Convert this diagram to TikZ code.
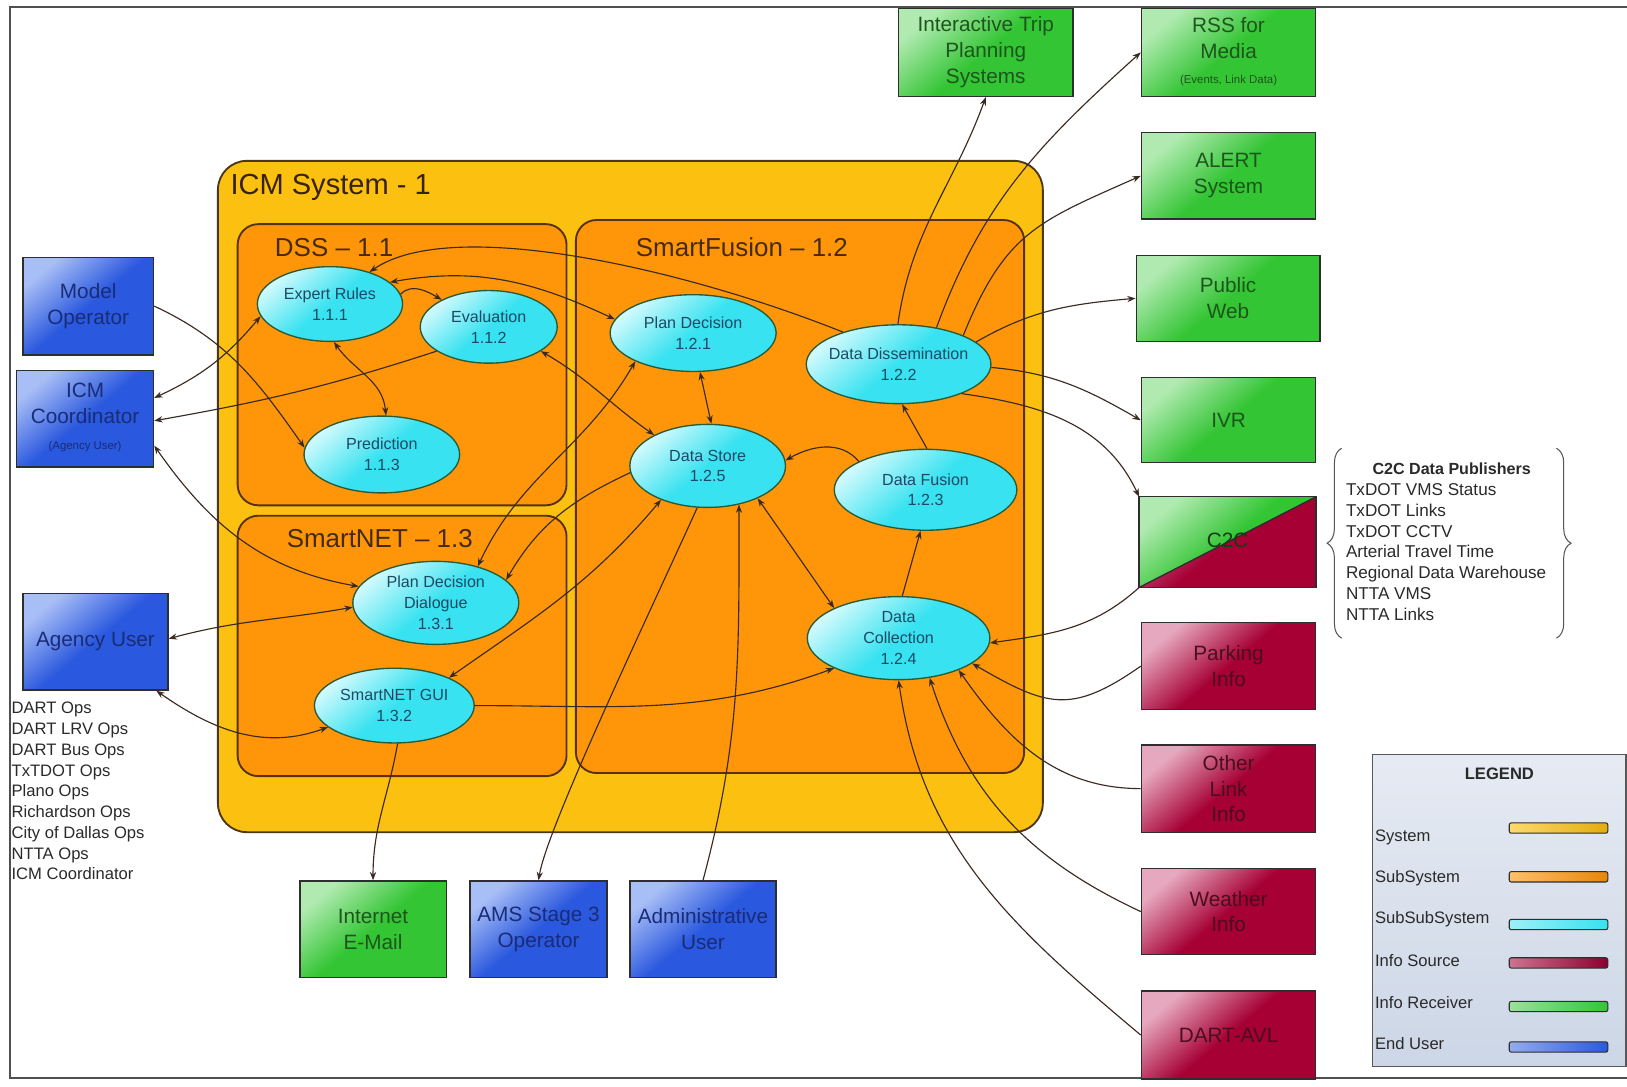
\documentclass[tikz,border=0pt]{standalone}
\usepackage{fontspec}
\setmainfont{Liberation Sans}
\usetikzlibrary{shapes.geometric,arrows.meta,decorations.pathreplacing}

\definecolor{sysY}{HTML}{FCC010}
\definecolor{sysB}{HTML}{4A3818}
\definecolor{subO}{HTML}{FF960A}
\definecolor{subB}{HTML}{553214}
\definecolor{cyM}{HTML}{38E2F0}
\definecolor{cyL}{HTML}{D0FAFD}
\definecolor{cyB}{HTML}{2A5A36}
\definecolor{cyT}{HTML}{1C4A66}
\definecolor{grM}{HTML}{34C534}
\definecolor{grL}{HTML}{B0EAB0}
\definecolor{grT}{HTML}{1C561C}
\definecolor{blM}{HTML}{2A58DE}
\definecolor{blL}{HTML}{A8BEF6}
\definecolor{blT}{HTML}{182C78}
\definecolor{mrM}{HTML}{A60035}
\definecolor{mrL}{HTML}{E6A8BE}
\definecolor{mrT}{HTML}{4A0E1E}
\definecolor{bxB}{HTML}{2E2E2E}
\definecolor{arrC}{HTML}{3A2A22}
\definecolor{ttlC}{HTML}{452A0C}
\definecolor{lsT}{HTML}{2A2A2A}
\definecolor{lgF}{HTML}{CCD6E6}
\definecolor{lgL}{HTML}{E6EBF3}
\definecolor{frameC}{HTML}{505050}

\begin{document}
\begin{tikzpicture}[x=1pt,y=-1pt,
  sysbox/.style={rectangle, draw=sysB, line width=1.8pt, fill=sysY, rounded corners=28pt, inner sep=0},
  subbox/.style={rectangle, draw=subB, line width=1.8pt, fill=subO, rounded corners=20pt, inner sep=0},
  ttl/.style={inner sep=0, text=ttlC, font=\fontsize{25}{30}\selectfont},
  proc/.style={ellipse, draw=cyB, line width=1.3pt, top color=cyL, bottom color=cyM, middle color=cyM, shading angle=40, inner sep=-12pt, align=center, text=cyT, font=\fontsize{15.5}{20}\selectfont},
  rbox/.style={rectangle, draw=bxB, line width=1.3pt, inner sep=2pt, align=center, font=\fontsize{20}{25}\selectfont},
  recv/.style={rbox, top color=grL, bottom color=grM, middle color=grM, shading angle=40, text=grT},
  euser/.style={rbox, top color=blL, bottom color=blM, middle color=blM, shading angle=40, text=blT},
  isrc/.style={rbox, top color=mrL, bottom color=mrM, middle color=mrM, shading angle=40, text=mrT},
  boxtext/.style={inner sep=0, align=center, font=\fontsize{20}{25}\selectfont},
  smalltext/.style={inner sep=0, font=\fontsize{11}{13}\selectfont},
  arw/.style={draw=arrC, line width=1.1pt, -{Stealth[length=8pt,width=6pt]}},
  darw/.style={draw=arrC, line width=1.1pt, {Stealth[length=8pt,width=6pt]}-{Stealth[length=8pt,width=6pt]}},
  swatch/.style={rectangle, draw=bxB, line width=1pt, rounded corners=2pt, minimum width=95pt, minimum height=10pt, inner sep=0},
  lgl/.style={anchor=west, inner sep=0, font=\fontsize{16}{18}\selectfont, text=lsT},
  bracestyle/.style={draw=lsT!80, line width=1pt, decorate, decoration={brace, amplitude=14pt, aspect=0.5}}
]
\useasboundingbox (0,0) rectangle (1568,1047);
\fill[white] (0,0) rectangle (1568,1047);
\draw[frameC, line width=2pt] (1568,7) -- (10,7) -- (10,1039) -- (1568,1039);

% containers
\node[sysbox, minimum width=795pt, minimum height=647pt] (sys) at (607.5,478.5) {};
\node[subbox, minimum width=317pt, minimum height=271pt] (dss) at (387.5,351.5) {};
\node[subbox, minimum width=432pt, minimum height=533pt] (sf) at (771,478.5) {};
\node[subbox, minimum width=317pt, minimum height=251pt] (sn) at (387.5,622.5) {};

\node[ttl, font=\fontsize{28}{32}\selectfont, text=ttlC!80!black, anchor=west] (systitle) at (222,181) {ICM System - 1};
\node[ttl] (dsstitle) at (322,239) {DSS \textendash{} 1.1};
\node[ttl] (sftitle) at (715,238) {SmartFusion \textendash{} 1.2};
\node[ttl] (sntitle) at (366,519) {SmartNET \textendash{} 1.3};

% processes
\node[proc, minimum width=140pt, minimum height=72pt] (er) at (318,293) {Expert Rules\\1.1.1};
\node[proc, minimum width=132pt, minimum height=70pt] (ev) at (471,315) {Evaluation\\1.1.2};
\node[proc, minimum width=150pt, minimum height=74pt] (pr) at (368,438) {Prediction\\1.1.3};
\node[proc, minimum width=160pt, minimum height=74pt] (pd) at (668,321) {Plan Decision\\1.2.1};
\node[proc, minimum width=178pt, minimum height=76pt] (dd) at (866,351) {Data Dissemination\\1.2.2};
\node[proc, minimum width=150pt, minimum height=80pt] (ds) at (682,449) {Data Store\\1.2.5};
\node[proc, minimum width=176pt, minimum height=78pt] (df) at (892,472) {Data Fusion\\1.2.3};
\node[proc, minimum width=176pt, minimum height=80pt] (dc) at (866,615) {Data\\Collection\\1.2.4};
\node[proc, minimum width=160pt, minimum height=80pt] (pdd) at (420,581) {Plan Decision\\Dialogue\\1.3.1};
\node[proc, minimum width=154pt, minimum height=72pt] (gui) at (380,680) {SmartNET GUI\\1.3.2};

% end users
\node[euser, minimum width=126pt, minimum height=94pt] (mo) at (85,295) {Model\\Operator};
\node[euser, minimum width=132pt, minimum height=93pt] (icmc) at (82,403.5) {};
\node[boxtext, text=blT] (icmct) at (82,389) {ICM\\Coordinator};
\node[smalltext, text=blT] (icmcs) at (82,430) {(Agency User)};
\node[euser, minimum width=140pt, minimum height=93pt] (au) at (92,618.5) {Agency User};
\node[anchor=north west, inner sep=0, align=left, font=\fontsize{16}{20}\selectfont, text=lsT] (aulist) at (11,676.5)
  {DART Ops\\DART LRV Ops\\DART Bus Ops\\TxTDOT Ops\\Plano Ops\\Richardson Ops\\City of Dallas Ops\\NTTA Ops\\ICM Coordinator};
\node[recv, minimum width=141pt, minimum height=93pt] (mail) at (359.5,895.5) {Internet\\E-Mail};
\node[euser, minimum width=132pt, minimum height=93pt] (ams) at (519,895.5) {AMS Stage 3\\Operator};
\node[euser, minimum width=141pt, minimum height=93pt] (adm) at (677.5,895.5) {Administrative\\User};

% receivers
\node[recv, minimum width=168pt, minimum height=85pt] (itps) at (950,50.5) {Interactive Trip\\Planning\\Systems};
\node[recv, minimum width=168pt, minimum height=85pt] (rss) at (1184,50.5) {};
\node[boxtext, text=grT] (rsst) at (1184,37) {RSS for\\Media};
\node[smalltext, text=grT] (rsss) at (1184,78) {(Events, Link Data)};
\node[recv, minimum width=168pt, minimum height=83pt] (alert) at (1184,169.5) {ALERT\\System};
\node[recv, minimum width=177pt, minimum height=83pt] (web) at (1183.5,287.5) {Public\\Web};
\node[recv, minimum width=168pt, minimum height=82pt] (ivr) at (1184,405) {IVR};

% C2C split box
\node[rectangle, inner sep=0, minimum width=170pt, minimum height=87pt] (c2c) at (1183,522.5) {};
\fill[top color=grL, bottom color=grM, middle color=grM, shading angle=40] (c2c.south west) -- (c2c.north west) -- (c2c.north east) -- cycle;
\fill[top color=mrL!70!mrM, bottom color=mrM, middle color=mrM, shading angle=40] (c2c.south west) -- (c2c.north east) -- (c2c.south east) -- cycle;
\draw[bxB, line width=1.3pt] (c2c.south west) rectangle (c2c.north east);
\draw[bxB, line width=1.3pt] (c2c.south west) -- (c2c.north east);
\node[boxtext, text=grT!70!black] (c2ct) at (1183,521) {C2C};

% sources
\node[isrc, minimum width=168pt, minimum height=84pt] (park) at (1184,642) {Parking\\Info};
\node[isrc, minimum width=168pt, minimum height=84pt] (other) at (1184,760) {Other\\Link\\Info};
\node[isrc, minimum width=168pt, minimum height=83pt] (weather) at (1184,878.5) {Weather\\Info};
\node[isrc, minimum width=168pt, minimum height=85pt] (avl) at (1184,997.5) {DART-AVL};

% C2C publishers
\node[inner sep=0, font=\bfseries\fontsize{15.5}{18}\selectfont, text=lsT] (c2chd) at (1399,452) {C2C Data Publishers};
\node[anchor=north west, inner sep=0, align=left, font=\fontsize{16.5}{20}\selectfont, text=lsT] (c2cls) at (1297,466)
  {TxDOT VMS Status\\TxDOT Links\\TxDOT CCTV\\Arterial Travel Time\\Regional Data Warehouse\\NTTA VMS\\NTTA Links};
\coordinate (brLb) at (1293,615);
\coordinate (brLt) at (1293,432);
\coordinate (brRt) at (1500,432);
\coordinate (brRb) at (1500,615);
\draw[bracestyle] (brLb) -- (brLt);
\draw[bracestyle] (brRt) -- (brRb);

% legend
\node[rectangle, draw=bxB!80, line width=1.2pt, top color=lgL, bottom color=lgF, minimum width=244pt, minimum height=301pt, inner sep=0] (lg) at (1445,877.5) {};
\node[inner sep=0, font=\bfseries\fontsize{16}{18}\selectfont, text=lsT] (lgt) at (1445,746) {LEGEND};
\node[lgl] (lg1) at (1325,807) {System};
\node[lgl] (lg2) at (1325,846) {SubSystem};
\node[lgl] (lg3) at (1325,886) {SubSubSystem};
\node[lgl] (lg4) at (1325,926) {Info Source};
\node[lgl] (lg5) at (1325,966) {Info Receiver};
\node[lgl] (lg6) at (1325,1006) {End User};
\node[swatch, left color=sysY!60!white, right color=sysY!90!black] (sw1) at (1502,798) {};
\node[swatch, left color=subO!60!white, right color=subO!90!black] (sw2) at (1502,845) {};
\node[swatch, left color=cyM!50!white, right color=cyM] (sw3) at (1502,891) {};
\node[swatch, left color=mrM!55!white, right color=mrM!85!black] (sw4) at (1502,928) {};
\node[swatch, left color=grM!50!white, right color=grM] (sw5) at (1502,970) {};
\node[swatch, left color=blM!50!white, right color=blM] (sw6) at (1502,1009) {};

% connectors
\draw[arw] (mo.east) to[out=-25,in=125] (pr.175);
\draw[darw] (er.190) to[out=-130,in=25] ([yshift=20pt]icmc.east);
\draw[arw] (ev.205) to[out=198,in=10] ([yshift=-2pt]icmc.east);
\draw[darw] (er.-84) to[out=-55,in=95] (pr.84);
\draw[arw] (er.8) to[out=45,in=150] (ev.150);
\draw[arw] (dd.150) .. controls +(-150,-60) and +(80,-55) .. (er.39);
\draw[darw] (er.20) to[out=10,in=155] (pd.170);
\draw[darw] (ev.-25) to[out=-30,in=145] (ds.150);
\draw[darw] (pd.-80) -- (ds.85);
\draw[darw] (pd.206) to[out=-120,in=65] (pdd.41);
\draw[arw] (ds.185) to[out=205,in=60] (pdd.18);
\draw[darw] ([yshift=-26pt]icmc.east) to[out=-55,in=170] (pdd.168);
\draw[darw] ([yshift=3pt]au.east) to[out=15,in=190] (pdd.183);
\draw[darw] ([xshift=-12pt]au.south east) to[out=-35,in=200] (gui.198);
\draw[darw] (ds.216) to[out=230,in=35] (gui.27);
\draw[arw] (gui.0) to[out=0,in=200] (dc.205);
\draw[arw] (gui.-85) to[out=-100,in=90] (mail.north);
\draw[arw] (ds.-104) .. controls +(-50,110) and +(8,-50) .. (ams.north);
\draw[arw] (adm.north) to[out=75,in=-90] (ds.-51);
\draw[darw] (ds.-33) -- (dc.155);
\draw[arw] (df.157) to[out=130,in=30] (ds.4);
\draw[arw] (dc.85) -- (df.-97);
\draw[arw] (df.88) -- (dd.-85);
\draw[arw] (dd.91) to[out=82,in=-110] (itps.south);
\draw[arw] (dd.44) to[out=70,in=-138] (rss.west);
\draw[arw] (dd.24) to[out=68,in=-156,looseness=1.2] (alert.west);
\draw[arw] (dd.16) to[out=30,in=185] (web.west);
\draw[arw] (dd.-2) to[out=-5,in=150] (ivr.west);
\draw[arw] (dd.-25) to[out=-8,in=115] (c2c.north west);
\draw[arw] (c2c.south west) to[out=222,in=8] (dc.-3);
\draw[arw] (park.west) to[out=215,in=-30,looseness=1.3] (dc.-19);
\draw[arw] (other.west) to[out=180,in=-55] (dc.-28);
\draw[arw] (weather.west) to[out=155,in=-72] (dc.-52);
\draw[arw] (avl.west) to[out=140,in=-82] (dc.-90);
\end{tikzpicture}
\end{document}
